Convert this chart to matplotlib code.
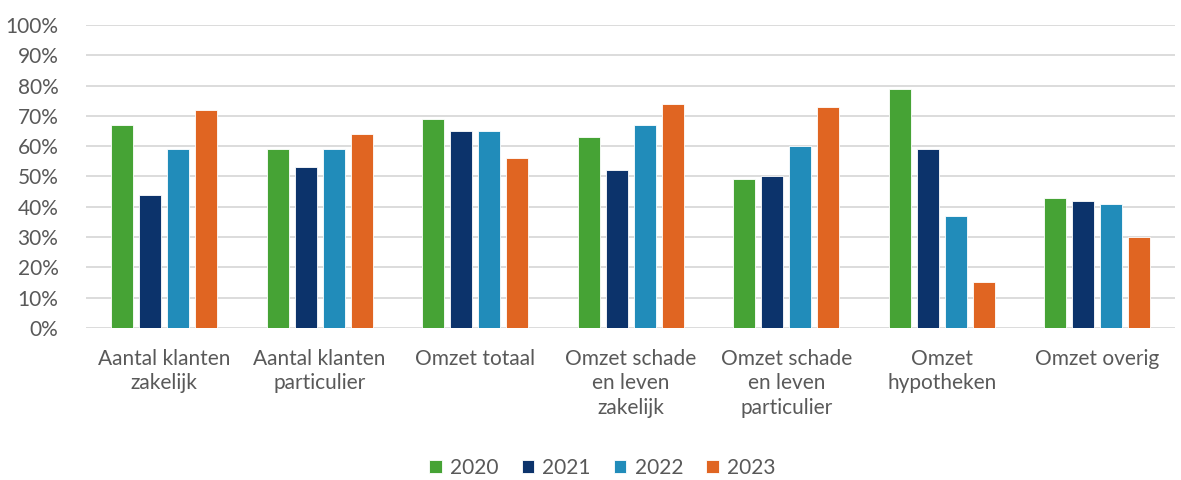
import numpy as np
import matplotlib.pyplot as plt
from matplotlib.ticker import PercentFormatter

categories = ["Aantal klanten\nzakelijk", "Aantal klanten\nparticulier", "Omzet totaal",
              "Omzet schade\nen leven\nzakelijk", "Omzet schade\nen leven\nparticulier",
              "Omzet\nhypotheken", "Omzet overig"]
years = ["2020", "2021", "2022", "2023"]
v2020 = [67, 59, 69, 63, 49, 79, 43]
v2021 = [44, 53, 65, 52, 50, 59, 42]
v2022 = [59, 59, 65, 67, 60, 37, 41]
v2023 = [72, 64, 56, 74, 73, 15, 30]
colors = ["#46A335", "#0C336B", "#218CBA", "#E06522"]

plt.rcParams['font.family'] = ['Lato', 'DejaVu Sans']
text_color = "#595959"

fig = plt.figure(figsize=(11.81, 4.8), dpi=100)
ax = fig.add_axes([0.073, 0.317, 0.922, 0.631])

x = np.arange(len(categories))
step = 0.18
width = 0.142
for i, (vals, yr) in enumerate(zip([v2020, v2021, v2022, v2023], years)):
    ax.bar(x + (i - 1.5) * step, vals, width, color=colors[i], label=yr,
           edgecolor="white", linewidth=0.6, zorder=3)

ax.set_xlim(-0.5, len(categories) - 0.5)
ax.set_ylim(0, 100)
ax.set_yticks(np.arange(0, 101, 10))
ax.yaxis.set_major_formatter(PercentFormatter(decimals=0))
ax.grid(axis="y", color="#D9D9D9", linewidth=1.3, zorder=0)
for s in ax.spines.values():
    s.set_visible(False)
ax.tick_params(axis="both", length=0, labelsize=15, colors=text_color)
ax.tick_params(axis="y", pad=20)
ax.tick_params(axis="x", pad=15)
ax.set_xticks(x)
ax.set_xticklabels(categories, linespacing=1.3)

leg = fig.legend(loc="lower center", ncol=4, frameon=False, fontsize=15,
                 bbox_to_anchor=(0.51, -0.035), handlelength=0.6, handleheight=0.6,
                 columnspacing=1.1, handletextpad=0.4)
for t in leg.get_texts():
    t.set_color(text_color)

fig.savefig("out.png", dpi=100)
